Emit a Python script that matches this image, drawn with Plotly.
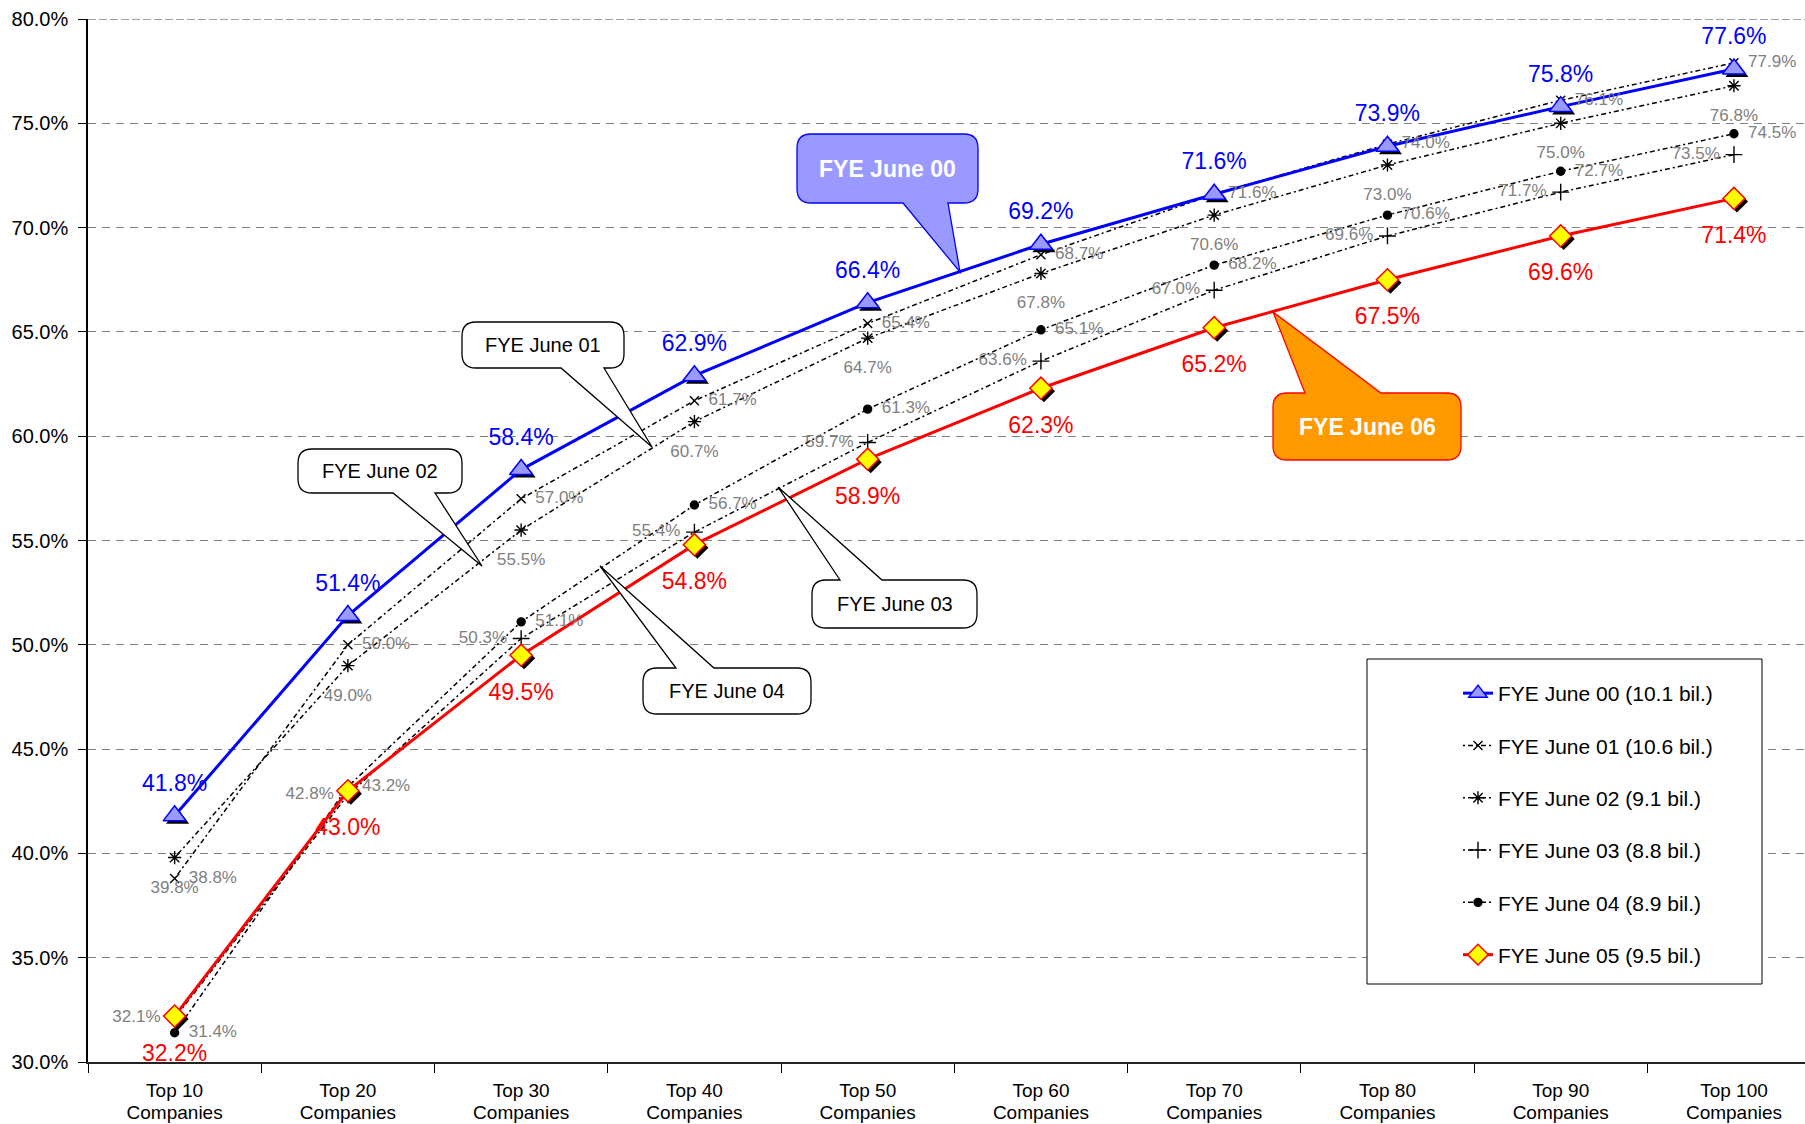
import plotly.graph_objects as go

# ---------------- data ----------------
top_labels = ["Top 10", "Top 20", "Top 30", "Top 40", "Top 50",
              "Top 60", "Top 70", "Top 80", "Top 90", "Top 100"]
sub_label = "Companies"
fye00 = [41.8, 51.4, 58.4, 62.9, 66.4, 69.2, 71.6, 73.9, 75.8, 77.6]
fye01 = [38.8, 50.0, 57.0, 61.7, 65.4, 68.7, 71.6, 74.0, 76.1, 77.9]
fye02 = [39.8, 49.0, 55.5, 60.7, 64.7, 67.8, 70.6, 73.0, 75.0, 76.8]
fye03 = [32.1, 42.8, 50.3, 55.4, 59.7, 63.6, 67.0, 69.6, 71.7, 73.5]
fye04 = [31.4, 43.2, 51.1, 56.7, 61.3, 65.1, 68.2, 70.6, 72.7, 74.5]
fye05 = [32.2, 43.0, 49.5, 54.8, 58.9, 62.3, 65.2, 67.5, 69.6, 71.4]
series_names = ["FYE June 00 (10.1 bil.)", "FYE June 01 (10.6 bil.)",
                "FYE June 02 (9.1 bil.)", "FYE June 03 (8.8 bil.)",
                "FYE June 04 (8.9 bil.)", "FYE June 05 (9.5 bil.)"]
y_ticks = [30, 35, 40, 45, 50, 55, 60, 65, 70, 75, 80]

categories = [f"{t} {sub_label}" for t in top_labels]

# ---------------- geometry ----------------
W, H = 1805, 1124
ML, MT, MB, MR = 88, 19, 62, 0
PW = W - ML - MR
PH = H - MT - MB
PB = MT + PH
X_RANGE = [-0.5, 9.41]
Y_RANGE = [30, 80]
SH = 3
dx = SH * (X_RANGE[1] - X_RANGE[0]) / PW
dy = SH * (Y_RANGE[1] - Y_RANGE[0]) / PH

FONT = "Liberation Sans, Arial, sans-serif"
GRAY = "#808080"


def pct(vals):
    return [f"{v:.1f}%" for v in vals]


fig = go.Figure()

DOT = "2px,3px,5px,3px"
dotted_specs = [
    (series_names[1], fye01, "x-thin", 9, 2),
    (series_names[2], fye02, "asterisk-open", 11, 3),
    (series_names[3], fye03, "cross-thin-open", 12, 4),
    (series_names[4], fye04, "circle", 8, 5),
]
for name, vals, sym, size, rank in dotted_specs:
    fig.add_trace(go.Scatter(
        x=categories, y=vals, mode="lines+markers", name=name,
        legendrank=rank, legendgroup=name,
        line=dict(color="black", width=1.5, dash=DOT),
        marker=dict(symbol=sym, size=size, color="black",
                    line=dict(color="black", width=1.4)),
        hoverinfo="skip", xaxis="x", yaxis="y"))

# shadows (offset axes)
fig.add_trace(go.Scatter(x=categories, y=fye00, mode="markers", showlegend=False,
                         marker=dict(symbol="triangle-up", size=20, color="black"),
                         hoverinfo="skip", xaxis="x2", yaxis="y2"))
fig.add_trace(go.Scatter(x=categories, y=fye05, mode="markers", showlegend=False,
                         marker=dict(symbol="diamond", size=17, color="black"),
                         hoverinfo="skip", xaxis="x2", yaxis="y2"))

# main coloured series
fig.add_trace(go.Scatter(
    x=categories, y=fye00, mode="lines+markers", name=series_names[0],
    legendrank=1, legendgroup=series_names[0],
    line=dict(color="#0000FF", width=3),
    marker=dict(symbol="triangle-up", size=20, color="#9999FF",
                line=dict(color="#0000FF", width=1.5)),
    hoverinfo="skip", xaxis="x3", yaxis="y3"))
fig.add_trace(go.Scatter(
    x=categories, y=fye05, mode="lines+markers", name=series_names[5],
    legendrank=6, legendgroup=series_names[5],
    line=dict(color="#FF0000", width=3),
    marker=dict(symbol="diamond", size=17, color="#FFFF00",
                line=dict(color="#FF0000", width=1.5)),
    hoverinfo="skip", xaxis="x3", yaxis="y3"))

# data labels
label_specs = [
    (fye00, "top center", 29, "#0000FF", 23),
    (fye05, "bottom center", 42, "#FF0000", 23),
    (fye01, "middle right", 21, GRAY, 17),
    (fye02, "bottom center", 34, GRAY, 17),
    (fye03, "middle left", 21, GRAY, 17),
    (fye04, "middle right", 21, GRAY, 17),
]
for vals, pos, msize, col, fsize in label_specs:
    fig.add_trace(go.Scatter(
        x=categories, y=vals, mode="markers+text", text=pct(vals),
        textposition=pos, textfont=dict(color=col, size=fsize, family=FONT),
        marker=dict(size=msize, opacity=0), showlegend=False, cliponaxis=False,
        hoverinfo="skip", xaxis="x3", yaxis="y3"))


# ---------------- callouts ----------------
def P(x, y):
    return f"{(x - ML) / PW:.5f},{(PB - y) / PH:.5f}"


def callout(x0, y0, x1, y1, r, side, wb1, wb2, tip):
    tx, ty = tip
    if side == "bottom":
        d = (f"M{P(x0 + r, y0)} L{P(x1 - r, y0)} Q{P(x1, y0)} {P(x1, y0 + r)} "
             f"L{P(x1, y1 - r)} Q{P(x1, y1)} {P(x1 - r, y1)} L{P(wb2, y1)} L{P(tx, ty)} "
             f"L{P(wb1, y1)} L{P(x0 + r, y1)} Q{P(x0, y1)} {P(x0, y1 - r)} "
             f"L{P(x0, y0 + r)} Q{P(x0, y0)} {P(x0 + r, y0)} Z")
    else:
        d = (f"M{P(x0 + r, y0)} L{P(wb1, y0)} L{P(tx, ty)} L{P(wb2, y0)} "
             f"L{P(x1 - r, y0)} Q{P(x1, y0)} {P(x1, y0 + r)} "
             f"L{P(x1, y1 - r)} Q{P(x1, y1)} {P(x1 - r, y1)} "
             f"L{P(x0 + r, y1)} Q{P(x0, y1)} {P(x0, y1 - r)} "
             f"L{P(x0, y0 + r)} Q{P(x0, y0)} {P(x0 + r, y0)} Z")
    return d


callouts = [
    # text, box, side, wedge base, tip, fill, line, text colour, bold, size
    ("FYE June 00", (797, 134, 978, 203), "bottom", (903, 948), (960, 272),
     "#9999FF", "#0000FF", "white", True, 23),
    ("FYE June 01", (462, 322, 624, 368), "bottom", (561, 604), (652, 447),
     "white", "black", "black", False, 20),
    ("FYE June 02", (298, 449, 462, 493), "bottom", (393, 435), (482, 566),
     "white", "black", "black", False, 20),
    ("FYE June 03", (812, 580, 977, 628), "top", (840, 882), (778, 487),
     "white", "black", "black", False, 20),
    ("FYE June 04", (643, 668, 811, 714), "top", (676, 714), (600, 566),
     "white", "black", "black", False, 20),
    ("FYE June 06", (1273, 393, 1461, 460), "top", (1305, 1381), (1273, 312),
     "#FF9900", "#FF0000", "white", True, 23),
]
shapes = [
    # top gridline at the upper range end
    dict(type="line", xref="paper", yref="y", x0=0, x1=1, y0=Y_RANGE[1], y1=Y_RANGE[1],
         line=dict(color=GRAY, width=1.5, dash="8px,3px"), layer="below"),
]
annotations = []
for text, (x0, y0, x1, y1), side, (wb1, wb2), tip, fill, lc, tc, bold, fs in callouts:
    shapes.append(dict(type="path", xref="paper", yref="paper",
                       path=callout(x0, y0, x1, y1, 14, side, wb1, wb2, tip),
                       fillcolor=fill, line=dict(color=lc, width=1.3), layer="above"))
    cx, cy = (x0 + x1) / 2, (y0 + y1) / 2
    annotations.append(dict(xref="paper", yref="paper",
                            x=(cx - ML) / PW, y=(PB - cy) / PH,
                            text=f"<b>{text}</b>" if bold else text, showarrow=False,
                            font=dict(color=tc, size=fs, family=FONT),
                            xanchor="center", yanchor="middle"))

# legend box
LX0, LY0, LX1, LY1 = 1367, 659, 1762, 984
shapes.append(dict(type="rect", xref="paper", yref="paper",
                   x0=(LX0 - ML) / PW, x1=(LX1 - ML) / PW,
                   y0=(PB - LY1) / PH, y1=(PB - LY0) / PH,
                   fillcolor="white", line=dict(color="black", width=1), layer="above"))

cat_axis = dict(type="category", categoryorder="array", categoryarray=categories)
XFONT = dict(size=19, family=FONT, color="black")

fig.update_layout(
    width=W, height=H,
    margin=dict(l=ML, r=MR, t=MT, b=MB, pad=0, autoexpand=False),
    paper_bgcolor="white", plot_bgcolor="white",
    font=dict(family=FONT, color="black"),
    showlegend=True,
    xaxis=dict(**cat_axis, range=X_RANGE, showline=True, linecolor="#222222", linewidth=2,
               tickvals=categories, ticktext=top_labels, automargin=False,
               ticks="outside", tickson="boundaries", ticklen=9, tickcolor="black",
               ticklabelstandoff=10, tickfont=XFONT,
               showgrid=False, zeroline=False),
    yaxis=dict(range=Y_RANGE, tickvals=y_ticks, ticktext=[f"{v:.1f}%" for v in y_ticks],
               showgrid=True, gridcolor=GRAY, griddash="8px,6px", gridwidth=1,
               showline=True, linecolor="black", linewidth=1.5, automargin=False,
               ticks="outside", ticklen=8, tickcolor="black", ticklabelstandoff=6,
               tickfont=dict(size=20, family=FONT, color="black"), zeroline=False),
    xaxis2=dict(**cat_axis, overlaying="x", range=[X_RANGE[0] - dx, X_RANGE[1] - dx],
                visible=False, automargin=False),
    yaxis2=dict(overlaying="y", range=[Y_RANGE[0] + dy, Y_RANGE[1] + dy], visible=False,
                automargin=False),
    # second line of the category labels ("Companies") drawn by the overlay axis
    xaxis3=dict(**cat_axis, overlaying="x", range=X_RANGE, visible=True,
                showline=False, ticks="", showgrid=False, zeroline=False, automargin=False,
                tickvals=categories, ticktext=[sub_label] * len(categories),
                ticklabelstandoff=37, tickfont=XFONT),
    yaxis3=dict(overlaying="y", range=Y_RANGE, visible=False, automargin=False),
    legend=dict(x=(1458 - ML) / PW, y=(PB - 673) / PH, xanchor="left", yanchor="top",
                bgcolor="rgba(0,0,0,0)", borderwidth=0,
                font=dict(size=21, family=FONT, color="black"),
                traceorder="grouped", tracegroupgap=22, itemwidth=30),
    shapes=shapes,
    annotations=annotations,
)

fig.write_html("out.html")
